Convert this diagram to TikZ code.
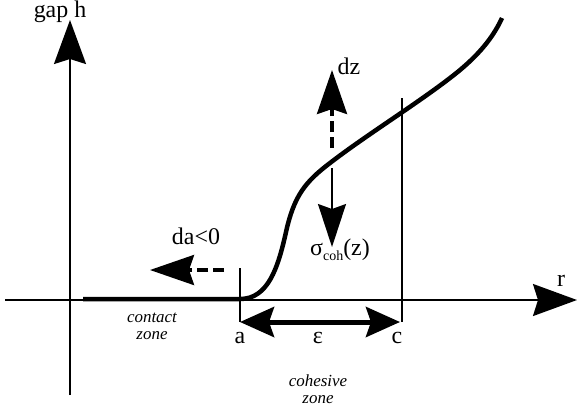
\documentclass[tikz,border=0pt]{standalone}
\usepackage{fontspec}
\setmainfont{Liberation Serif}
\usetikzlibrary{arrows.meta, positioning}
\tikzset{
    axis/.style={line width=2bp, -{Stealth[length=44bp, width=32bp, inset=5bp]}},
    marker/.style={line width=1.6bp},
    profile/.style={line width=4.5bp},
    jump/.style={line width=3.5bp, dash pattern=on 11bp off 5bp, -{Stealth[length=44bp, width=30bp, inset=5bp]}},
    force/.style={line width=1.6bp, -{Stealth[length=43bp, width=28bp, inset=5bp]}},
    span/.style={line width=5bp, {Stealth[length=34bp, width=30bp, inset=5bp]}-{Stealth[length=34bp, width=30bp, inset=5bp]}},
    lbl/.style={font=\fontsize{24}{26}\selectfont, inner sep=0pt},
    zone/.style={font=\fontsize{17}{17}\selectfont\itshape, align=center, inner sep=0pt}
}

\begin{document}
\begin{tikzpicture}[x=1bp, y=-1bp]
    \useasboundingbox (0,0) rectangle (577,408);
    \coordinate (hbot) at (70,395);
    \coordinate (htop) at (70,20);
    \coordinate (rleft) at (5,300);
    \coordinate (rright) at (577,300);
    \coordinate (cstart) at (83,299);
    \coordinate (a) at (240,299);
    \coordinate (atop) at (240,268);
    \coordinate (abot) at (240,322);
    \coordinate (ctop) at (402,98);
    \coordinate (cbot) at (402,322);
    \coordinate (spanl) at (240,322);
    \coordinate (spanr) at (400,322);
    \coordinate (dastart) at (224,270);
    \coordinate (daend) at (150,270);
    \coordinate (dzstart) at (332,148);
    \coordinate (dzend) at (332,70);
    \coordinate (sigstart) at (332,168);
    \coordinate (sigend) at (332,247);

    \draw [axis] (hbot) -- (htop);
    \draw [axis] (rleft) -- (rright);
    \draw [marker] (atop) -- (abot);
    \draw [marker] (ctop) -- (cbot);
    \draw [profile] (cstart) -- (a)
        .. controls (268,299) and (278,268) .. (286,232)
        .. controls (294,196) and (305,182) .. (330,163)
        .. controls (365,136) and (415,105) .. (450,78)
        .. controls (475,59) and (492,40) .. (502,18);
    \draw [span] (spanl) -- (spanr);
    \draw [jump] (dastart) -- (daend);
    \draw [jump] (dzstart) -- (dzend);
    \draw [force] (sigstart) -- (sigend);

    \node (gap) [lbl] at (60,12) {gap h};
    \node (rlbl) [lbl] at (561,281) {r};
    \node (dalbl) [lbl] at (196,236) {da<0};
    \node (dzlbl) [lbl] at (349,66) {dz};
    \node (siglbl) [lbl] at (340,250) {σ{\fontsize{14}{14}\selectfont\raisebox{-5bp}{coh}}(z)};
    \node (alag) [lbl] at (240,338) {a};
    \node (eps) [lbl] at (318,338) {ε};
    \node (clbl) [lbl] at (397,338) {c};
    \node (contact) [zone] at (152,326) {contact\\zone};
    \node (cohesive) [zone] at (318,389) {cohesive\\zone};
\end{tikzpicture}
\end{document}
